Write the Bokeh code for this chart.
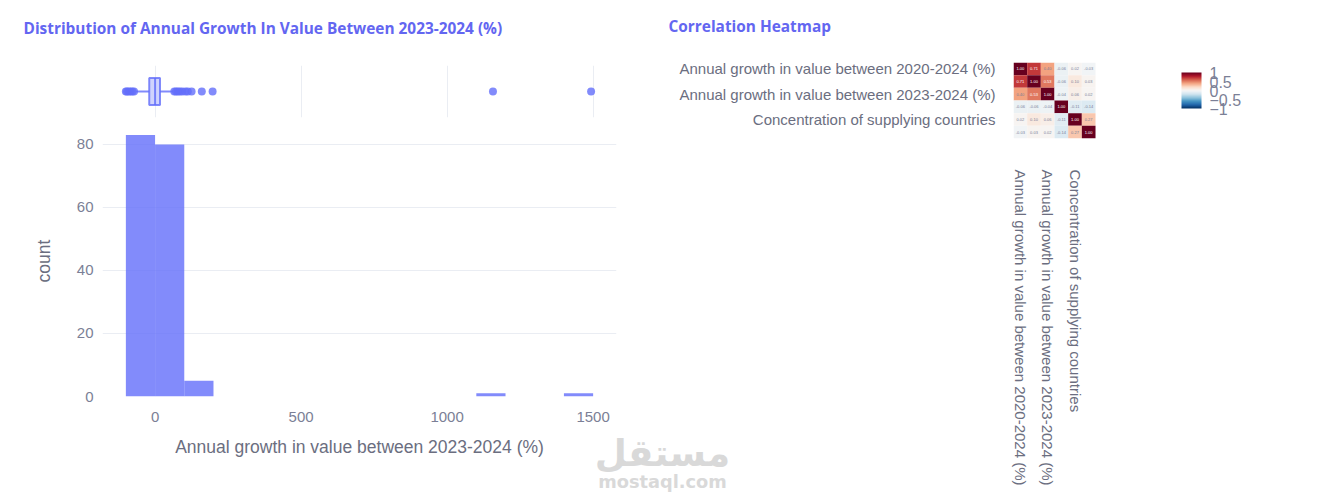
import math
from bokeh.plotting import figure
from bokeh.models import Range1d, FixedTicker, LinearColorMapper, ColorBar, Label, ColumnDataSource, AllLabels
from bokeh.layouts import row, column
from bokeh.embed import file_html
from bokeh.resources import INLINE
from bokeh.palettes import interp_palette

# ---------------- data ----------------
bin_edges = [-100, 0, 100, 200, 300, 400, 500, 600, 700, 800, 900, 1000, 1100, 1200, 1300, 1400, 1500]
counts = [83, 80, 5, 0, 0, 0, 0, 0, 0, 0, 0, 0, 1, 0, 0, 1]

box_q1 = -20
box_median = 0
box_q3 = 17
whisker_low = -65
whisker_high = 62
outliers = [-100, -96, -90, -84, -78, -72, 66, 72, 78, 85, 93, 104, 112, 125, 160, 197, 1157, 1493]

x_ticks = [0, 500, 1000, 1500]
y_ticks = [0, 20, 40, 60, 80]

var_names = [
    "Annual growth in value between 2020-2024 (%)",
    "Annual growth in quantity between 2020-2024 (%)",
    "Annual growth in value between 2023-2024 (%)",
    "Share in world imports (%)",
    "Concentration of supplying countries",
    "Average distance of supplying countries (km)",
]
corr = [
    [1.00, 0.71, 0.40, -0.06, 0.02, -0.03],
    [0.71, 1.00, 0.53, -0.06, 0.10, 0.03],
    [0.40, 0.53, 1.00, -0.04, 0.06, 0.02],
    [-0.06, -0.06, -0.04, 1.00, -0.11, -0.14],
    [0.02, 0.10, 0.06, -0.11, 1.00, 0.27],
    [-0.03, 0.03, 0.02, -0.14, 0.27, 1.00],
]
shown_idx = [0, 2, 4]
cb_ticks = [-1, -0.5, 0, 0.5, 1]

title_left = "Distribution of Annual Growth In Value Between 2023-2024 (%)"
title_right = "Correlation Heatmap"
x_label = "Annual growth in value between 2023-2024 (%)"
y_label = "count"
wm_ar = "مستقل"
wm_en = "mostaql.com"

# ---------------- styles ----------------
BLUE = "#636efa"
TITLE_C = "#6366f1"
TICK_C = "#7b7f96"
LAB_C = "#6b6e80"
GRID_C = "#eaedf3"
FONT = "Liberation Sans"
WM_C = "#d9d9d9"

rdbu = ["#053061", "#2166ac", "#4393c3", "#92c5de", "#d1e5f0", "#f7f7f7",
        "#fddbc7", "#f4a582", "#d6604d", "#b2182b", "#67001f"]
heat_palette = interp_palette(rdbu, 256)


def blank_fig(w, h):
    p = figure(width=w, height=h, x_range=Range1d(0, w), y_range=Range1d(0, h),
               x_axis_location=None, y_axis_location=None,
               min_border=0, min_border_left=0, min_border_right=0, min_border_top=0,
               min_border_bottom=0, output_backend="svg", toolbar_location=None)
    p.grid.visible = False
    p.outline_line_color = None
    p.background_fill_color = None
    p.border_fill_color = None
    return p


def title_fig(w, h, text, x, y_from_top):
    p = blank_fig(w, h)
    p.add_layout(Label(x=x, y=h - y_from_top, text=text, text_font="Open Sans",
                       text_font_style="bold", text_font_size="15.4px", text_color=TITLE_C,
                       text_align="left", text_baseline="middle"))
    return p


# ---------------- titles ----------------
p_tl = title_fig(658, 50, title_left, 23, 28)
p_tr = title_fig(657, 50, title_right, 10, 26)

# ---------------- box (marginal) ----------------
p_box = figure(width=658, height=72, x_range=Range1d(-180, 1580), y_range=Range1d(-1, 1),
               x_axis_location=None, y_axis_location=None,
               min_border_left=102, min_border_right=42, min_border_top=15, min_border_bottom=5,
               output_backend="svg", toolbar_location=None)
p_box.outline_line_color = None
p_box.xgrid.ticker = FixedTicker(ticks=x_ticks)
p_box.xgrid.grid_line_color = GRID_C
p_box.ygrid.visible = False

p_box.segment(x0=[whisker_low, box_q3], x1=[box_q1, whisker_high], y0=[0, 0], y1=[0, 0],
              line_color=BLUE, line_alpha=0.8, line_width=2)
p_box.quad(left=[box_q1], right=[box_q3], bottom=[-0.52], top=[0.52],
           fill_color=BLUE, fill_alpha=0.3, line_color=BLUE, line_alpha=0.8, line_width=2)
p_box.segment(x0=[box_median], x1=[box_median], y0=[-0.52], y1=[0.52],
              line_color=BLUE, line_alpha=0.8, line_width=2)
p_box.scatter(x=outliers, y=[0] * len(outliers), size=8, fill_color=BLUE, fill_alpha=0.8,
              line_color=None)

# ---------------- histogram ----------------
p_hist = figure(width=658, height=364, x_range=p_box.x_range, y_range=Range1d(0, 86),
                min_border_left=102, min_border_right=42, min_border_top=3, min_border_bottom=90,
                output_backend="svg", toolbar_location=None)
p_hist.outline_line_color = None
p_hist.quad(left=bin_edges[:-1], right=bin_edges[1:], top=counts, bottom=0,
            fill_color=BLUE, fill_alpha=0.8, line_color=None)
p_hist.xgrid.visible = False
p_hist.ygrid.grid_line_color = GRID_C
for ax in (p_hist.xaxis[0], p_hist.yaxis[0]):
    ax.axis_line_color = None
    ax.major_tick_line_color = None
    ax.major_tick_out = 0
    ax.major_tick_in = 0
    ax.minor_tick_line_color = None
    ax.major_label_text_font = FONT
    ax.major_label_text_font_size = "15px"
    ax.major_label_text_color = TICK_C
    ax.axis_label_text_font = FONT
    ax.axis_label_text_font_size = "17.5px"
    ax.axis_label_text_font_style = "normal"
    ax.axis_label_text_color = LAB_C
p_hist.xaxis.ticker = FixedTicker(ticks=x_ticks)
p_hist.yaxis.ticker = FixedTicker(ticks=y_ticks)
p_hist.xaxis.axis_label = x_label
p_hist.yaxis.axis_label = y_label
p_hist.xaxis.major_label_standoff = 15
p_hist.yaxis.major_label_standoff = 9
p_hist.xaxis.axis_label_standoff = 12
p_hist.yaxis.axis_label_standoff = 20

# ---------------- heatmap ----------------
n = len(var_names)
xs, ys, vals, txt, tcol = [], [], [], [], []
for i in range(n):
    for j in range(n):
        v = corr[i][j]
        xs.append(j)
        ys.append(i)
        vals.append(v)
        txt.append(f"{v:.2f}")
        tcol.append("#ffffff" if abs(v) > 0.5 else "#7a7f99")
src = ColumnDataSource(dict(x=xs, y=ys, v=vals, t=txt, c=tcol))

p_heat = figure(width=657, height=438, x_range=Range1d(-0.5, 17.57), y_range=Range1d(5.5, -0.5),
                min_border_left=355, min_border_right=55, min_border_top=12, min_border_bottom=345,
                output_backend="svg", toolbar_location=None)
p_heat.outline_line_color = None
p_heat.grid.visible = False
mapper = LinearColorMapper(palette=heat_palette, low=-1, high=1)
p_heat.rect(x="x", y="y", width=1, height=1, source=src,
            fill_color={"field": "v", "transform": mapper}, line_color=None)
p_heat.text(x="x", y="y", text="t", source=src, text_font_size="4px", text_color="c",
            text_align="center", text_baseline="middle")
for ax in (p_heat.xaxis[0], p_heat.yaxis[0]):
    ax.axis_line_color = None
    ax.major_tick_line_color = None
    ax.major_tick_out = 0
    ax.major_tick_in = 0
    ax.minor_tick_line_color = None
    ax.major_label_text_font = FONT
    ax.major_label_text_font_size = "15px"
    ax.major_label_text_color = LAB_C
    ax.ticker = FixedTicker(ticks=shown_idx)
    ax.major_label_overrides = {k: var_names[k] for k in shown_idx}
p_heat.yaxis.major_label_standoff = 18
p_heat.xaxis.major_label_standoff = 31
p_heat.xaxis.major_label_orientation = -math.pi / 2

cb = ColorBar(color_mapper=mapper, location=(168, 30), width=20, height=36, padding=0,
              ticker=FixedTicker(ticks=cb_ticks),
              major_label_overrides={-1: "−1", -0.5: "−0.5", 0: "0", 0.5: "0.5", 1: "1"},
              major_label_policy=AllLabels(),
              major_label_text_font=FONT, major_label_text_font_size="16px",
              major_label_text_color=TICK_C, major_tick_line_color=None,
              bar_line_color=None, border_line_color=None, background_fill_color=None,
              label_standoff=8)
p_heat.add_layout(cb, "center")

# ---------------- watermark (overlaid) ----------------
p_wm = blank_fig(200, 80)
p_wm.add_layout(Label(x=100, y=47, text=wm_ar, text_font="DejaVu Sans", text_font_style="bold",
                      text_font_size="37px", text_color=WM_C, text_align="center",
                      text_baseline="middle"))
p_wm.add_layout(Label(x=100, y=19, text=wm_en, text_font="DejaVu Sans", text_font_style="bold",
                      text_font_size="17.8px", text_color=WM_C, text_align="center",
                      text_baseline="middle"))
p_wm.margin = (-68, 0, 0, 562)

layout = column(row(p_tl, p_tr), row(column(p_box, p_hist), p_heat), p_wm)
open("out.html", "w").write(file_html(layout, INLINE))
